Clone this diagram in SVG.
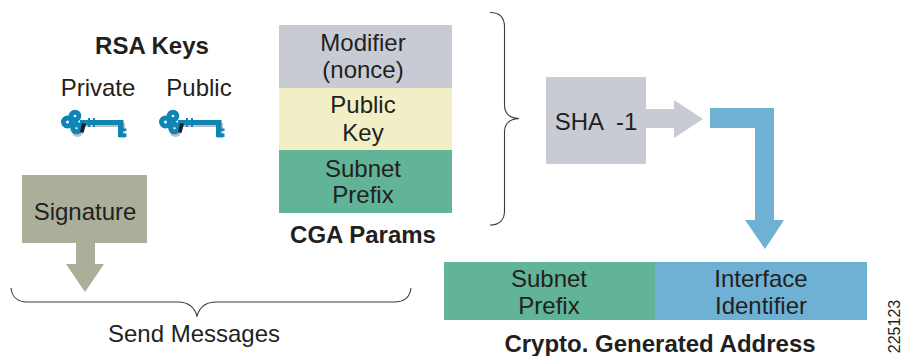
<svg xmlns="http://www.w3.org/2000/svg" width="902" height="356" viewBox="0 0 902 356">
<style>
text{font-family:"Liberation Sans",Arial,sans-serif;font-size:24px;fill:#231f20;text-anchor:middle}
.b{font-weight:bold}
.brace{fill:none;stroke:#3a3a3a;stroke-width:1.1}
.ring{fill:none;stroke:#0f85b5;stroke-width:5}
</style>
<defs>
<g id="key">
<path d="M24 10H64V25H58V14H24Z" fill="#bcbec0"/>
<circle cx="16.500" cy="18" r="4.500" fill="none" stroke="#bcbec0" stroke-width="3"/>
<circle class="ring" cx="6.500" cy="9" r="4"/>
<circle class="ring" cx="14" cy="3" r="3.800"/>
<circle class="ring" cx="15.500" cy="15" r="3.800"/>
<path d="M19 7H27V5H29V7H32V5H34V7H62.500V15.500H65.500V18H62V20.500H65.500V24H57V12H34V14H32V12H29V14H27V12H19Z" fill="#0f85b5"/>
<path d="M21 10L25 11L22.500 20L19 19Z" fill="#231f20"/>
</g>
</defs>

<g id="rsa-keys">
<text class="b" x="152" y="53.500">RSA Keys</text>
<text x="98" y="96">Private</text>
<text x="199" y="96">Public</text>
<use href="#key" x="61" y="113"/>
<use href="#key" x="159" y="113"/>
</g>

<g id="cga-params">
<rect x="279" y="25" width="173" height="63" fill="#c8cbd3"/>
<rect x="279" y="88" width="173" height="62" fill="#f2eec6"/>
<rect x="279" y="150" width="173" height="63" fill="#61b497"/>
<text x="363" y="51">Modifier</text>
<text x="363" y="78">(nonce)</text>
<text x="363" y="113">Public</text>
<text x="363" y="141">Key</text>
<text x="363" y="177">Subnet</text>
<text x="363" y="203">Prefix</text>
<text class="b" x="363" y="243">CGA Params</text>
</g>

<g id="signature">
<rect x="22" y="175" width="125" height="68" fill="#abae98"/>
<text x="85" y="220">Signature</text>
</g>

<g id="sha1">
<rect x="546" y="77" width="100" height="87" fill="#c8cbd3"/>
<text x="596" y="130" xml:space="preserve">SHA  -1</text>
</g>

<g id="address">
<rect x="444" y="262" width="211" height="58" fill="#61b497"/>
<rect x="655" y="262" width="212" height="58" fill="#6eb1d5"/>
<text x="549" y="287">Subnet</text>
<text x="549" y="314">Prefix</text>
<text x="761" y="287">Interface</text>
<text x="761" y="314">Identifier</text>
<text class="b" x="660" y="352">Crypto. Generated Address</text>
</g>

<g id="connectors">
<path d="M646 109H674V100L703 119L674 138V128H646Z" fill="#c8cbd3"/>
<path d="M710 108H774V220H784L765 249L745 220H755V128H710Z" fill="#6eb1d5"/>
<path d="M76 243H95V264H104L85 292L66 264H76Z" fill="#abae98"/>
<path class="brace" d="M490 12.500C500 12.500 504.500 18 504.500 27V105C504.500 113 509 118 519 118.500C509 119 504.500 124 504.500 132V211C504.500 219 500 225 490 225"/>
<path class="brace" d="M11 288C12 297 18 302 27 302H178C188 302 194 306 197 316C200 306 206 302 216 302H394C404 302 410 297 411 288"/>
</g>

<text x="194" y="342">Send Messages</text>
<text x="0" y="0" transform="translate(900,326.500) rotate(-90)" style="font-size:16px">225123</text>
</svg>
